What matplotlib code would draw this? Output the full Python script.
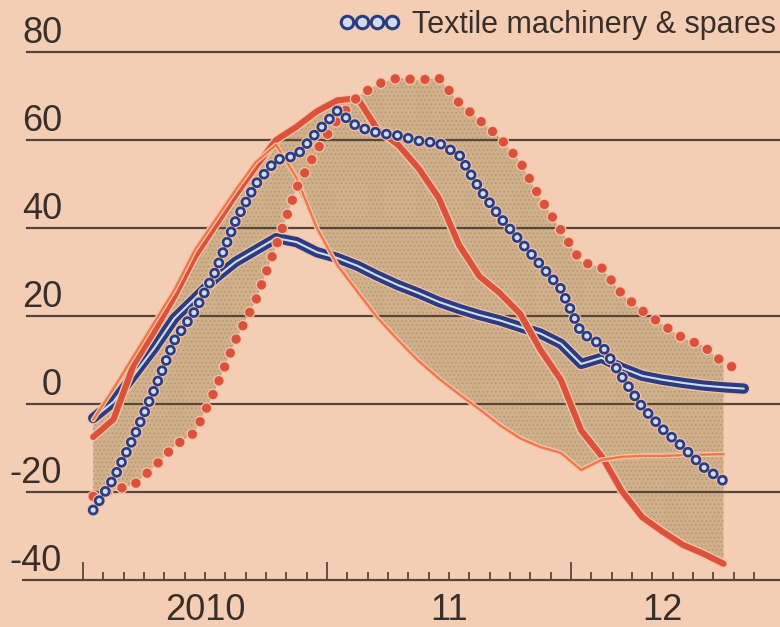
import matplotlib
matplotlib.use("Agg")
import matplotlib.pyplot as plt
import matplotlib.transforms as mtransforms
import numpy as np

plt.rcParams['lines.scale_dashes'] = False
plt.rcParams['font.family'] = ['Liberation Sans', 'DejaVu Sans']
plt.rcParams['hatch.linewidth'] = 0.6

# Monthly readings, Jan 2010 onwards (per cent, year on year)
start_month = 0  # Jan 2010
dotted_red = [-21, -19.5, -18.4, -14.3, -9.5, -6.5, 3.2, 14.5, 23.6, 36, 49, 57.7,
              64.5, 69.8, 72.7, 74.1, 73.6, 74.1, 68.4, 64.5, 60.5, 55, 46.7, 39.5,
              32.3, 31, 25, 21.2, 18, 15, 13.2, 9.3, 7.3]
thick_red = [-7.5, -3.5, 9, 16.5, 24.5, 33.5, 40.5, 47.5, 54, 60, 63, 66.5,
             69, 69.5, 62.3, 58.9, 53.6, 46.8, 36.1, 29, 25.2, 20.5, 12.3, 5.5,
             -6, -11.8, -19.8, -25.7, -29, -32, -34, -36.3]
thin_orange = [-3.6, 3.5, 11, 18.5, 26, 35, 41.8, 48.6, 55, 58.9, 51.4, 40,
               31.6, 25.5, 19.5, 14.5, 9.8, 5.8, 2.2, -1.2, -4.8, -7.8, -9.8, -11.1,
               -15, -12.7, -12, -11.8, -11.8, -11.6, -11.5, -11.4]
blue_double = [-3.2, 0.5, 6.6, 12.7, 19.5, 24, 28.6, 32.3, 35, 37.7, 36.8, 34.5,
               33.2, 31.4, 29.1, 27, 25.2, 23.2, 21.6, 20.2, 19, 17.5, 16, 13.7,
               9.1, 10.5, 8.2, 6.4, 5.5, 4.8, 4.2, 3.8, 3.5]
textile_machinery = [-24.1, -17, -7.5, 3.2, 14.5, 21.1, 30, 41.6, 50, 55.5, 56.4, 61.8,
                     66.6, 63, 61.6, 61, 59.8, 59.3, 56.6, 48.9, 42.5, 37, 31.6, 26.2,
                     16.2, 13.4, 6.2, -0.7, -5.7, -9.8, -14.3, -17.5]

y_ticks = [-40, -20, 0, 20, 40, 60, 80]
y_tick_labels = ["-40", "-20", "0", "20", "40", "60", "80"]
year_labels = ["2010", "11", "12"]
year_label_months = [6, 18, 28.5]
legend_label = "Textile machinery & spares"

BG = "#f3ceb5"
SHADE = "#cfb08b"
STIPPLE = "#b39672"
GRID = "#5a4638"
TEXT = "#3a2e28"
BLUE = "#2b3d80"
BLUE_IN = "#d2dbec"
RED = "#db523a"
ORANGE = "#ee7848"
HALO = "#f8c3ab"


def months_x(values):
    return np.arange(len(values)) + start_month + 0.5


fig = plt.figure(figsize=(7.8, 6.27), dpi=100)
fig.patch.set_facecolor(BG)
W, H = 780, 627
ax = fig.add_axes([23 / W, (H - 580) / H, 757 / W, 580 / H])
ax.set_facecolor(BG)
month_px = 488 / 24
ax.set_xlim(-60 / month_px, 697 / month_px)
ax.set_ylim(-40, 404 / 4.4)

for s in ["top", "left", "right"]:
    ax.spines[s].set_visible(False)
ax.spines["bottom"].set_color(GRID)
ax.spines["bottom"].set_linewidth(1.6)
ax.spines["bottom"].set_zorder(2)

ax.set_yticks([])
ax.set_xticks([0, 12, 24])
ax.set_xticks([m for m in range(1, 34) if m % 12], minor=True)
ax.tick_params(axis="x", which="major", direction="in", length=13, width=1.3,
               color=GRID, labelbottom=False)
ax.tick_params(axis="x", which="minor", direction="in", length=6, width=1.3,
               color=GRID)

# shaded range spanned by the three red series
n = len(thick_red)
stack = np.vstack([dotted_red[:n], thick_red, thin_orange])
xs = months_x(thick_red)
ax.fill_between(xs, stack.min(axis=0), stack.max(axis=0), facecolor=SHADE,
                edgecolor=STIPPLE, linewidth=0, hatch="....", zorder=1)

# gridlines
for v in y_ticks[1:]:
    ax.axhline(v, xmin=4 / 757, color=GRID, lw=1.6, zorder=1.5)

ytrans = mtransforms.blended_transform_factory(ax.transAxes, ax.transData)
for v, lab in zip(y_ticks, y_tick_labels):
    ax.text(39 / 757, v + 2.0, lab, transform=ytrans, ha="right", va="baseline",
            fontsize=26, color=TEXT)

xtrans = mtransforms.blended_transform_factory(ax.transData, ax.transAxes)
for m, lab in zip(year_label_months, year_labels):
    ax.text(m, -40 / 580, lab, transform=xtrans, ha="center", va="baseline",
            fontsize=26, color=TEXT)

# blue double line
x = months_x(blue_double)
ax.plot(x, blue_double, color=HALO, lw=9.2, solid_capstyle="round", zorder=3)
ax.plot(x, blue_double, color=BLUE, lw=7.4, solid_capstyle="round", zorder=3)
ax.plot(x, blue_double, color=BLUE_IN, lw=1.5, solid_capstyle="round", zorder=3)

# thick red line
x = months_x(thick_red)
ax.plot(x, thick_red, color=HALO, lw=6.4, solid_capstyle="round", zorder=4)
ax.plot(x, thick_red, color=RED, lw=4.4, solid_capstyle="round", zorder=4)

# thin orange line
x = months_x(thin_orange)
ax.plot(x, thin_orange, color=HALO, lw=3.6, solid_capstyle="round", zorder=5)
ax.plot(x, thin_orange, color=ORANGE, lw=1.7, solid_capstyle="round", zorder=5)

# dotted red line
dots = (0, (0.01, 10.8))
x = months_x(dotted_red)
ax.plot(x, dotted_red, color=HALO, lw=8.6, linestyle=dots,
        dash_capstyle="round", zorder=6)
ax.plot(x, dotted_red, color=RED, lw=6.8, linestyle=dots,
        dash_capstyle="round", zorder=6)

# ring-marked line
rings = (0, (0.01, 8.0))
x = months_x(textile_machinery)
ax.plot(x, textile_machinery, color=HALO, lw=9.4, linestyle=rings,
        dash_capstyle="round", zorder=7)
ax.plot(x, textile_machinery, color=BLUE, lw=7.8, linestyle=rings,
        dash_capstyle="round", zorder=7)
ax.plot(x, textile_machinery, color=BLUE_IN, lw=3.8, linestyle=rings,
        dash_capstyle="round", zorder=7)

# legend key
lx = np.array([347, 362, 377, 392]) / W
ly = np.full(4, 1 - 22 / H)
ax.plot(lx, ly, linestyle="none", marker="o", markersize=9, markeredgewidth=2.2,
        markeredgecolor=BLUE, markerfacecolor=BLUE_IN, transform=fig.transFigure,
        clip_on=False, zorder=8)
fig.text(412 / W, 1 - 33 / H, legend_label, ha="left", va="baseline",
         fontsize=22, color=TEXT)

fig.savefig("out.png", dpi=100, facecolor=BG)
